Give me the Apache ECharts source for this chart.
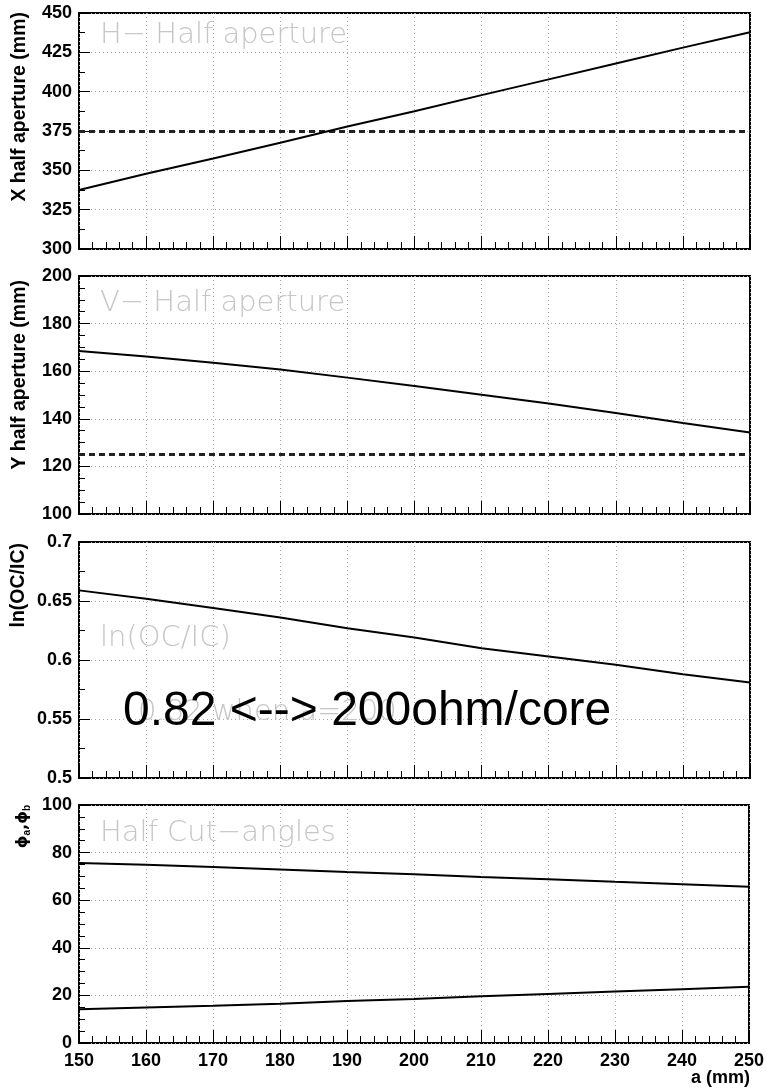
<!DOCTYPE html>
<html>
<head>
<meta charset="utf-8">
<script src="https://cdn.jsdelivr.net/npm/echarts@6/dist/echarts.min.js"></script>
<style>
  html, body { margin: 0; padding: 0; background: #fff; }
  #main { width: 767px; height: 1090px; }
</style>
</head>
<body>
<div id="main"></div>
<script>
// a (mm) sample points
var aVals = [150, 160, 170, 180, 190, 200, 210, 220, 230, 240, 250];
// H half aperture (mm)
var xHalf = [337.5, 347.8, 357.5, 367.5, 377.9, 387.5, 397.8, 407.8, 417.9, 428.0, 437.8];
var xLimit = 375;
// V half aperture (mm)
var yHalf = [168.5, 166.2, 163.5, 160.7, 157.3, 153.8, 150.1, 146.4, 142.4, 138.2, 134.2];
var yLimit = 125;
// ln(OC/IC)
var lnRatio = [0.659, 0.652, 0.644, 0.636, 0.627, 0.619, 0.610, 0.603, 0.596, 0.588, 0.581];
// half cut angles
var phiA = [75.6, 74.9, 74.0, 72.9, 71.8, 70.9, 69.8, 68.8, 67.7, 66.7, 65.6];
var phiB = [14.2, 14.9, 15.6, 16.5, 17.6, 18.5, 19.6, 20.6, 21.6, 22.6, 23.6];

var xTickStep = 10;
var yRanges = [[300, 450, 25, 2], [100, 200, 20, 4], [0.5, 0.7, 0.05, 2], [0, 100, 20, 4]];

var labelFont = '"Liberation Sans", Arial, sans-serif';
var grayFont = '"DejaVu Sans", sans-serif';
var panels = [
  { top: 13, height: 236 },
  { top: 276, height: 238 },
  { top: 542, height: 236 },
  { top: 805, height: 238 }
];

function pairs(ys) {
  var out = [];
  for (var i = 0; i < aVals.length; i++) out.push([aVals[i], ys[i]]);
  return out;
}

var myChart = echarts.init(document.getElementById('main'));

var grids = [], xAxes = [], yAxes = [];
for (var i = 0; i < panels.length; i++) {
  grids.push({
    left: 79, right: 17, top: panels[i].top, height: panels[i].height,
    show: true, borderColor: '#000', borderWidth: 2, backgroundColor: 'transparent'
  });
  xAxes.push({
    type: 'value', gridIndex: i, min: 150, max: 250, interval: xTickStep,
    axisLine: { show: false },
    axisTick: { show: true, inside: true, length: 13, lineStyle: { color: '#000', width: 1 } },
    minorTick: { show: true, splitNumber: 5, length: 7, lineStyle: { color: '#000', width: 1 } },
    splitLine: { show: true, lineStyle: { color: '#a8a8a8', type: [1, 3], width: 1 } },
    axisLabel: {
      show: i === 3, margin: 9, color: '#000', fontFamily: labelFont,
      fontWeight: 'bold', fontSize: 18
    }
  });
  yAxes.push({
    type: 'value', gridIndex: i, min: yRanges[i][0], max: yRanges[i][1], interval: yRanges[i][2],
    axisLine: { show: false },
    axisTick: { show: true, inside: true, length: 11, lineStyle: { color: '#000', width: 1 } },
    minorTick: { show: true, splitNumber: yRanges[i][3], length: 6, lineStyle: { color: '#000', width: 1 } },
    splitLine: { show: true, lineStyle: { color: '#a8a8a8', type: [1, 3], width: 1 } },
    axisLabel: {
      margin: 7, color: '#000', fontFamily: labelFont, fontWeight: 'bold', fontSize: 18,
      showMinLabel: true, showMaxLabel: true
    }
  });
}

var lineStyle = { color: '#000', width: 2 };
var dashStyle = { color: '#222', width: 3, type: [6, 4] };

function lineSeries(idx, ys, mark) {
  var s = {
    type: 'line', xAxisIndex: idx, yAxisIndex: idx, data: pairs(ys),
    showSymbol: false, symbol: 'none', lineStyle: lineStyle, silent: true, z: 5
  };
  if (mark !== undefined) {
    s.markLine = {
      silent: true, symbol: 'none', label: { show: false },
      lineStyle: dashStyle, data: [{ yAxis: mark }]
    };
  }
  return s;
}

function yTitle(text, x, y) {
  return {
    type: 'text', x: x, y: y, rotation: Math.PI / 2,
    style: {
      text: text, fill: '#000', textAlign: 'right', textVerticalAlign: 'middle',
      font: 'bold 19.5px ' + labelFont
    }
  };
}

function grayTitle(text, x, y) {
  return {
    type: 'text', x: x, y: y, z: 1,
    style: {
      text: text, fill: '#c6c6c6', textAlign: 'left', textVerticalAlign: 'middle',
      font: '200 29px ' + grayFont
    }
  };
}

var option = {
  animation: false,
  grid: grids,
  xAxis: xAxes,
  yAxis: yAxes,
  series: [
    lineSeries(0, xHalf, xLimit),
    lineSeries(1, yHalf, yLimit),
    lineSeries(2, lnRatio),
    lineSeries(3, phiA),
    lineSeries(3, phiB)
  ],
  graphic: [
    yTitle('X half aperture (mm)', 20, 12),
    yTitle('Y half aperture (mm)', 20, 280),
    yTitle('ln(OC/IC)', 19, 543),
    {
      type: 'text', x: 23, y: 805, rotation: Math.PI / 2,
      style: {
        text: '{p|ϕ}{s|a}{p|,ϕ}{s|b}', textAlign: 'right', textVerticalAlign: 'middle',
        rich: {
          p: { fontFamily: grayFont, fontSize: 16, fill: '#000', fontWeight: 'bold' },
          s: { fontFamily: labelFont, fontSize: 10, fill: '#000', fontWeight: 'bold', padding: [8, 0, 0, 0] }
        }
      }
    },
    grayTitle('H− Half aperture', 100, 35),
    grayTitle('V− Half aperture', 100, 303),
    grayTitle('ln(OC/IC)', 100, 638),
    grayTitle('Half Cut−angles', 100, 833),
    grayTitle('0.82 when a=200', 138, 712),
    {
      type: 'text', x: 123, y: 712, z: 20,
      style: {
        text: '0.82 <--> 200ohm/core', fill: '#000', textAlign: 'left', textVerticalAlign: 'middle',
        font: '48px ' + labelFont
      }
    },
    {
      type: 'text', x: 750, y: 1078, z: 20,
      style: {
        text: 'a (mm)', fill: '#000', textAlign: 'right', textVerticalAlign: 'middle',
        font: 'bold 18px ' + labelFont
      }
    }
  ]
};

myChart.setOption(option);
</script>
</body>
</html>
